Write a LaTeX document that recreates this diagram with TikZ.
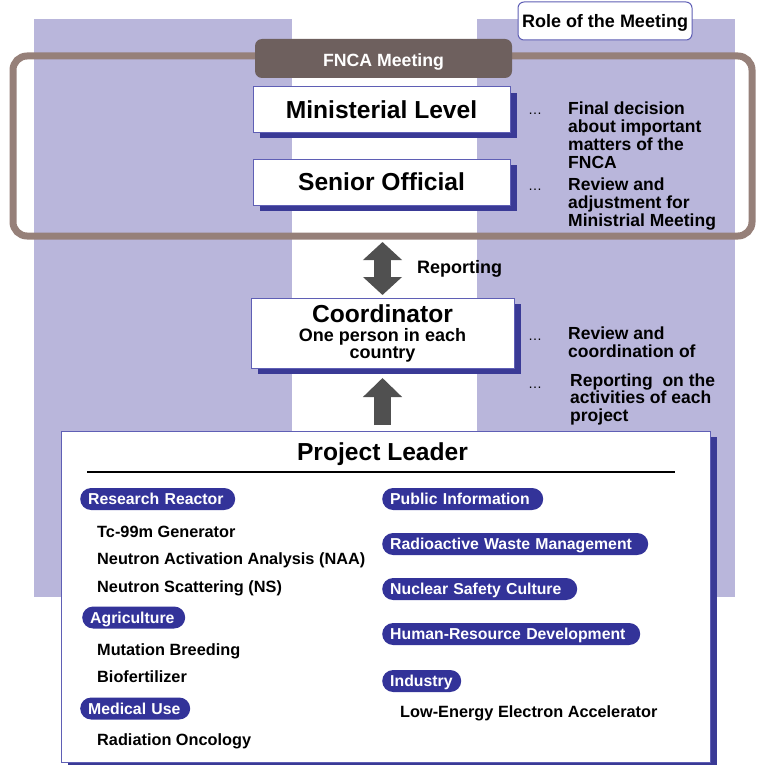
\documentclass[tikz,border=0pt]{standalone}
\usepackage{fontspec}
\setmainfont{Liberation Sans}
\usetikzlibrary{arrows.meta,shadows,calc}
\definecolor{lav}{HTML}{B9B6DB}
\definecolor{framec}{HTML}{968079}
\definecolor{tabc}{HTML}{6E605E}
\definecolor{shblue}{HTML}{3A3A96}
\definecolor{bordc}{HTML}{5F5FB5}
\definecolor{pillc}{HTML}{333399}
\definecolor{arrc}{HTML}{505050}
\newcommand\myfs[2]{\fontsize{#1}{#2}\selectfont\bfseries}
\tikzset{
  lavcol/.style={fill=lav, draw=none},
  lvlbox/.style={draw=bordc, line width=1pt, fill=white, inner sep=0pt,
     drop shadow={shadow xshift=7pt, shadow yshift=-6pt, fill=shblue, opacity=1}},
  pill/.style={fill=pillc, text=white, rounded corners=11pt, minimum height=22pt,
     inner ysep=0pt, inner xsep=8pt, anchor=west, text height=11.3pt, text depth=0pt,
     font=\myfs{15.8}{16}, align=left, text width=#1},
  item/.style={anchor=base west, inner sep=0pt, font=\myfs{16.3}{17}},
  role/.style={anchor=base west, inner sep=0pt, align=left, font=\myfs{17.5}{17.8}},
  dots/.style={anchor=base west, inner sep=0pt, font=\fontsize{14}{14}\selectfont},
  bigarrow/.style={line width=17pt, draw=arrc},
}
\begin{document}
\begin{tikzpicture}[x=1pt,y=-1pt]
\useasboundingbox (0,0) rectangle (757,765);
% lavender columns
\fill[lav] (34,19) rectangle (292,597);
\fill[lav] (477,19) rectangle (735,597);
% meeting frame
\node[draw=framec, line width=7pt, rounded corners=14pt, minimum width=739pt,
      minimum height=180pt, inner sep=0pt] (meet) at (382.5,146) {};
\node[fill=tabc, rounded corners=7pt, minimum width=257pt, minimum height=39pt,
      inner sep=0pt, text=white, text height=17pt, text depth=0pt,
      font=\myfs{17.7}{18}] (tab) at (383.5,58.5) {FNCA Meeting};
% role box
\node[draw=bordc, line width=1pt, fill=white, rounded corners=6pt, minimum width=174pt,
      minimum height=38pt, inner sep=0pt, text height=12.9pt, text depth=0pt,
      font=\myfs{18}{18}] (role) at (605,21) {Role of the Meeting};
% levels
\node[lvlbox, minimum width=257pt, minimum height=45pt, text height=17.6pt, text depth=0pt,
      font=\myfs{24.6}{25}] (min) at (381.5,109.5) {Ministerial Level};
\node[lvlbox, minimum width=257pt, minimum height=46pt, text height=17.6pt, text depth=0pt,
      font=\myfs{24.6}{25}] (sen) at (381.5,182) {Senior Official};
% role texts (base anchor = last line's baseline)
\node[dots] (d1) at (528,115) {…};
\node[role] (r1) at (568,168) {Final decision\\about important\\matters of the\\FNCA};
\node[dots] (d2) at (528,190) {…};
\node[role] (r2) at (568,226) {Review and\\adjustment for\\Ministrial Meeting};
% coordinator
\node[lvlbox, minimum width=263pt, minimum height=70pt] (coordb) at (382.5,333) {};
\node[anchor=base, inner sep=0pt, font=\myfs{24.6}{25}] (coordt) at (382.5,322.5) {Coordinator};
\node[anchor=base, inner sep=0pt, align=center, font=\myfs{18}{17}] (coords) at (382.5,358.5) {One person in each\\country};
\node[dots] (d3) at (528,340) {…};
\node[role] (r3) at (568,357.7) {Review and\\coordination of};
\node[dots] (d4) at (528,388) {…};
\node[role] (r4) at (570,421.7) {Reporting\ \ on the\\activities of each\\project};
% project leader
\node[lvlbox, minimum width=649pt, minimum height=331pt] (pl) at (385.5,596.5) {};
\node[anchor=base, inner sep=0pt, font=\myfs{24.6}{25}] (plt) at (382.5,460) {Project Leader};
\coordinate (ruleA) at (87,472);
\coordinate (ruleB) at (675,472);
\draw[line width=1.6pt] (ruleA) -- (ruleB);
% arrows
\draw[bigarrow, {Triangle[width=38pt,length=18pt]}-{Triangle[width=38pt,length=18pt]}]
  ($(meet.south)+(0pt,-2.5pt)$) -- ($(coordb.north)+(0pt,2.5pt)$);
\node[anchor=base west, inner sep=0pt, font=\myfs{18}{18}] (rep) at (417,273.5) {Reporting};
\draw[bigarrow, -{Triangle[width=38pt,length=19pt]}]
  ($(coordb.south |- pl.north)+(0pt,5.5pt)$) -- ($(coordb.south)+(0pt,-9.5pt)$);
% left column
\node[pill=139pt] (p1) at (80,499) {Research Reactor};
\node[item] (i1) at (97,537) {Tc-99m Generator};
\node[item] (i2) at (97,564) {Neutron Activation Analysis (NAA)};
\node[item] (i3) at (97,592) {Neutron Scattering (NS)};
\node[pill=87pt] (p2) at (82,617.5) {Agriculture};
\node[item] (i4) at (97,655) {Mutation Breeding};
\node[item] (i5) at (97,682) {Biofertilizer};
\node[pill=94pt] (p3) at (80,708.5) {Medical Use};
\node[item] (i6) at (97,745) {Radiation Oncology};
% right column
\node[pill=145pt] (p4) at (382,499) {Public Information};
\node[pill=250pt] (p5) at (382,544) {Radioactive Waste Management};
\node[pill=179pt] (p6) at (382,589) {Nuclear Safety Culture};
\node[pill=242pt] (p7) at (382,634) {Human-Resource Development};
\node[pill=63pt] (p8) at (382,681) {Industry};
\node[item] (i7) at (400,717) {Low-Energy Electron Accelerator};
\end{tikzpicture}
\end{document}
